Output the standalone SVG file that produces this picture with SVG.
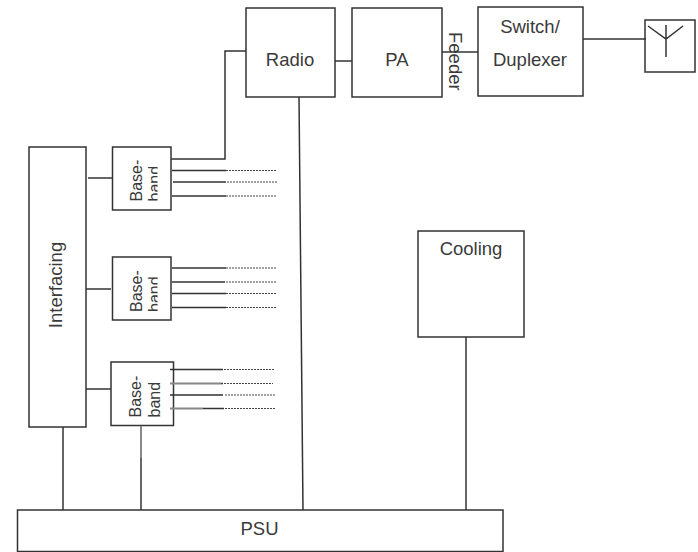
<svg xmlns="http://www.w3.org/2000/svg" width="698" height="552" viewBox="0 0 698 552">
<style>
.b{fill:#fff;stroke:#333;stroke-width:1.5}
.t{font-family:"Liberation Sans",Arial,sans-serif;font-size:18.5px;fill:#3a3a3a}
.s{font-size:16px}
.m{text-anchor:middle}
#connectors path{fill:none;stroke:#333;stroke-width:1.5}
#connectors .g{stroke:#888;stroke-width:2}
#connectors .d{stroke:#444;stroke-width:1.2;stroke-dasharray:2 1}
</style>
<defs>
<clipPath id="c1"><rect x="113" y="147" width="44.500" height="63"/></clipPath>
<clipPath id="c2"><rect x="113" y="257" width="44.500" height="63"/></clipPath>
</defs>
<rect width="698" height="552" fill="#fff"/>
<g id="radio"><rect class="b" x="246" y="8" width="89" height="89"/><text class="t m" x="290" y="66">Radio</text></g>
<g id="pa"><rect class="b" x="352" y="8" width="90" height="89"/><text class="t m" x="397" y="66">PA</text></g>
<g id="feeder"><text class="t" transform="translate(449 32) rotate(90)">Feeder</text></g>
<g id="switch"><rect class="b" x="478" y="7" width="105" height="89"/><text class="t m" x="530" y="33">Switch/</text><text class="t m" x="530" y="66">Duplexer</text></g>
<g id="antenna"><rect class="b" x="645" y="20" width="50" height="52"/><path d="M648 26L666 39L683 26M666 25V57" fill="none" stroke="#333" stroke-width="1.5"/></g>
<g id="interfacing"><rect class="b" x="29" y="147" width="57" height="280"/><text class="t m" transform="translate(62 285) rotate(-90)">Interfacing</text></g>
<g id="baseband1"><rect class="b" x="112.500" y="147" width="58.500" height="63"/><text class="t s" transform="translate(141.500 201.500) rotate(-90)">Base-</text><g clip-path="url(#c1)"><text class="t s" transform="translate(160 201.500) rotate(-90)">band</text></g></g>
<g id="baseband2"><rect class="b" x="112.500" y="257" width="58.500" height="63"/><text class="t s" transform="translate(141.500 312) rotate(-90)">Base-</text><g clip-path="url(#c2)"><text class="t s" transform="translate(160 312) rotate(-90)">band</text></g></g>
<g id="baseband3"><rect class="b" x="111" y="362" width="62.500" height="63.500"/><text class="t s" transform="translate(141 417.500) rotate(-90)">Base-</text><text class="t s" transform="translate(160 417.500) rotate(-90)">band</text></g>
<g id="cooling"><rect class="b" x="418" y="231" width="106" height="106"/><text class="t m" x="471" y="255">Cooling</text></g>
<g id="psu"><rect class="b" x="17.500" y="510" width="485.500" height="41.500"/><text class="t m" x="259.500" y="535">PSU</text></g>
<g id="connectors">
<path d="M246 51H225V159H171"/>
<path d="M335 61H352"/>
<path d="M442 52H478"/>
<path d="M583 39H646"/>
<path d="M299 97L303 510"/>
<path d="M466 337V510"/>
<path d="M63 427V510"/>
<path class="g" d="M141 426V458"/>
<path d="M141 458V510"/>
<path d="M88 178H112"/>
<path d="M86 289H111"/>
<path d="M86 389H111"/>
<path d="M172 170.500H226M173 182H226M172 196H226"/>
<path class="d" d="M226 170.500H277M227 182H278M226 196H277"/>
<path d="M172 268H226M172 282H225M172 293.500H226M172 307.500H226"/>
<path class="d" d="M226 268H277M226 282H276M226 293.500H277M226 307.500H276"/>
<path d="M170 369.500H223M170 395H223M203 408.500H224"/>
<path class="g" d="M170 383.500H223M170 408.500H203"/>
<path class="d" d="M224 369.500H275M221 383.500H273M225 395H276M225 408.500H275"/>
</g>
</svg>
